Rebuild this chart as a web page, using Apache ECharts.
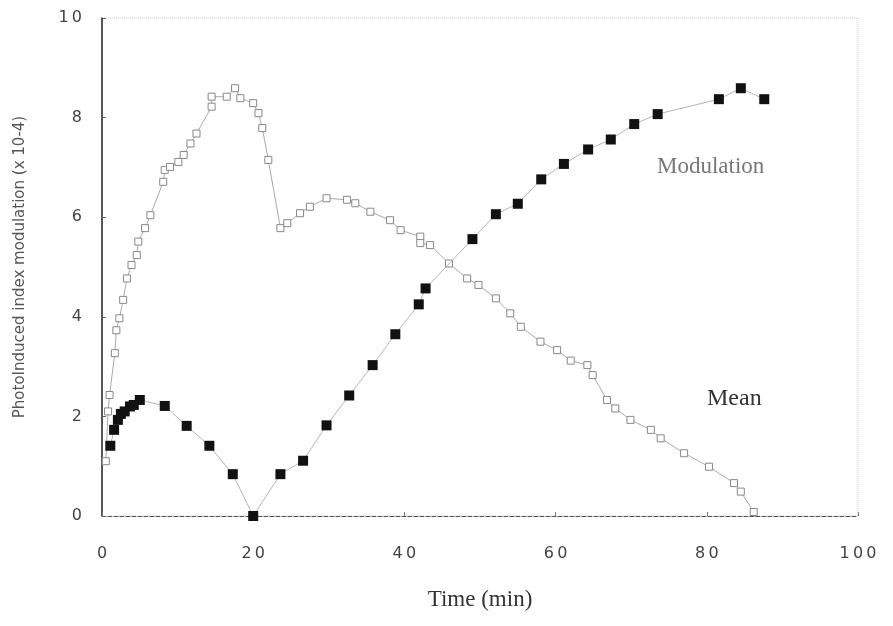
<!DOCTYPE html>
<html>
<head>
<meta charset="utf-8">
<title>Photoinduced index modulation</title>
<script src="https://cdn.jsdelivr.net/npm/echarts@6/dist/echarts.min.js"></script>
<style>
  html, body { margin: 0; padding: 0; background: #fff; }
  #chart { width: 893px; height: 626px; }
</style>
</head>
<body>
<div id="chart"></div>
<script>
// time (min) and value (x 10-4)
var meanTime = [1.1, 1.6, 2.1, 2.5, 3.0, 3.7, 4.2, 5.0, 8.3, 11.2, 14.2, 17.3, 20.0, 23.6, 26.6, 29.7, 32.7, 35.8, 38.8, 41.9, 42.8,
  49.0, 52.1, 55.0, 58.1, 61.1, 64.3, 67.3, 70.4, 73.5, 81.6, 84.5, 87.6];
var meanValue = [1.41, 1.73, 1.93, 2.05, 2.10, 2.20, 2.23, 2.33, 2.21, 1.81, 1.41, 0.84, 0.0, 0.84, 1.11, 1.82, 2.42, 3.03, 3.65, 4.25, 4.57,
  5.56, 6.06, 6.27, 6.76, 7.07, 7.36, 7.56, 7.87, 8.07, 8.37, 8.59, 8.37];

var modTime = [0.5, 0.8, 1.0, 1.7, 1.9, 2.3, 2.8, 3.3, 3.9, 4.6, 4.8, 5.7, 6.4, 8.1, 8.3, 9.0, 10.1, 10.8, 11.7, 12.5,
  14.5, 14.5, 16.5, 17.6, 18.3, 20.0, 20.7, 21.2, 22.0, 23.6, 24.5, 26.2, 27.5, 29.7, 32.4, 33.5, 35.5, 38.1, 39.5,
  42.1, 42.1, 43.4, 45.9, 48.3, 49.8, 52.1, 54.0, 55.4, 58.0, 60.2, 62.0, 64.2, 64.9, 66.8, 67.9, 69.9, 72.6, 73.9,
  77.0, 80.3, 83.6, 84.5, 86.2];
var modValue = [1.1, 2.1, 2.43, 3.27, 3.73, 3.97, 4.34, 4.77, 5.04, 5.24, 5.51, 5.78, 6.04, 6.71, 6.95, 7.01, 7.11, 7.25, 7.48, 7.68,
  8.22, 8.42, 8.42, 8.59, 8.39, 8.29, 8.09, 7.79, 7.15, 5.78, 5.88, 6.08, 6.21, 6.38, 6.35, 6.28, 6.11, 5.94, 5.74,
  5.61, 5.48, 5.44, 5.07, 4.77, 4.64, 4.37, 4.07, 3.80, 3.50, 3.33, 3.12, 3.03, 2.83, 2.33, 2.16, 1.93, 1.73, 1.56,
  1.26, 0.99, 0.66, 0.49, 0.08];

var xTicks = [0, 20, 40, 60, 80, 100];
var yTicks = [0, 2, 4, 6, 8, 10];

function pairs(xs, ys) {
  var out = [];
  for (var i = 0; i < xs.length; i++) out.push([xs[i], ys[i]]);
  return out;
}
function spaced(v) { return String(v).split("").join("\u2009"); }

var chart = echarts.init(document.getElementById("chart"), null, { renderer: "canvas" });

chart.setOption({
  animation: false,
  backgroundColor: "#fff",
  grid: { left: 102, right: 35, top: 18, bottom: 110, show: true, borderColor: "#c8c8c8", borderWidth: 1, borderType: "dotted" },
  xAxis: {
    type: "value", min: 0, max: 100, interval: 20,
    name: "Time (min)", nameLocation: "middle", nameGap: 72,
    nameTextStyle: { fontFamily: "Liberation Serif", fontSize: 23, color: "#333" },
    axisLine: { show: true, onZero: false, lineStyle: { color: "#555", width: 1, type: "dashed" } },
    axisTick: { show: true, inside: true, length: 4, lineStyle: { color: "#777" } },
    splitLine: { show: false },
    axisLabel: { margin: 30, fontFamily: "DejaVu Sans", fontSize: 16, color: "#444",
      formatter: function (v) { return xTicks.indexOf(v) >= 0 ? spaced(v) : ""; } }
  },
  yAxis: {
    type: "value", min: 0, max: 10, interval: 2,
    name: "PhotoInduced index modulation (x 10-4)", nameLocation: "middle", nameGap: 74,
    nameTextStyle: { fontFamily: "DejaVu Sans", fontSize: 15, color: "#555" },
    axisLine: { show: true, lineStyle: { color: "#222", width: 1.5 } },
    axisTick: { show: true, inside: true, length: 4, lineStyle: { color: "#666" } },
    splitLine: { show: false },
    axisLabel: { margin: 20, fontFamily: "DejaVu Sans", fontSize: 16, color: "#444",
      formatter: function (v) { return yTicks.indexOf(v) >= 0 ? spaced(v) : ""; } }
  },
  series: [
    {
      name: "Modulation", type: "line", data: pairs(modTime, modValue),
      symbol: "rect", symbolSize: 7, showAllSymbol: true,
      lineStyle: { color: "#aaa", width: 1 },
      itemStyle: { color: "#fff", borderColor: "#888", borderWidth: 1 },
      z: 2
    },
    {
      name: "Mean", type: "line", data: pairs(meanTime, meanValue),
      symbol: "rect", symbolSize: 10, showAllSymbol: true,
      lineStyle: { color: "#b5b5b5", width: 1 },
      itemStyle: { color: "#111", borderColor: "#111", borderWidth: 0 },
      z: 3
    }
  ],
  graphic: [
    { type: "text", left: 657, top: 155,
      style: { text: "Modulation", font: "23px 'Liberation Serif'", fill: "#777" } },
    { type: "text", left: 707, top: 387,
      style: { text: "Mean", font: "24px 'Liberation Serif'", fill: "#333" } }
  ]
});
</script>
</body>
</html>
